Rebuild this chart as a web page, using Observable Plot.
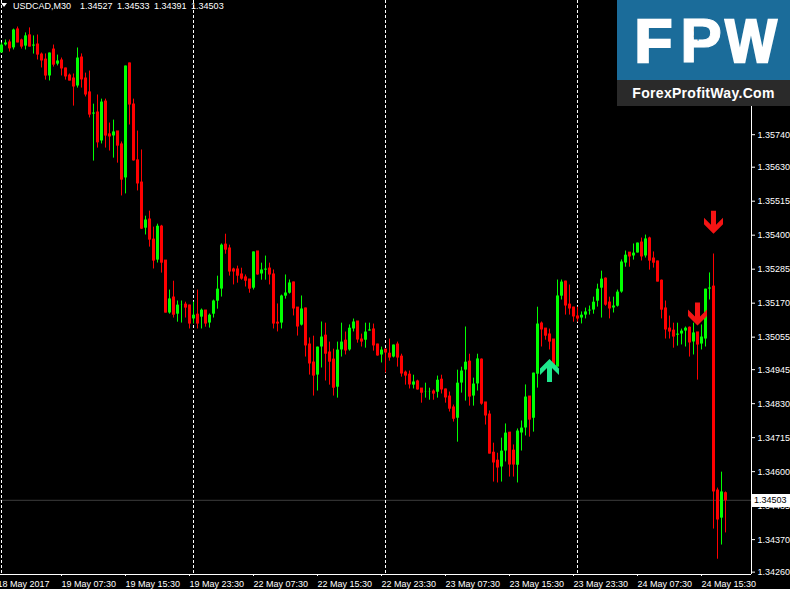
<!DOCTYPE html>
<html><head><meta charset="utf-8">
<script src="https://cdn.jsdelivr.net/npm/d3@7"></script>
<script src="https://cdn.jsdelivr.net/npm/@observablehq/plot@0.6"></script>
<style>
html,body{margin:0;padding:0;background:#000;overflow:hidden;}
#wrap{position:relative;width:790px;height:589px;background:#000;}
#wrap svg{display:block;}
.ov{position:absolute;font-family:"Liberation Sans",Arial,sans-serif;font-size:9px;color:#fff;white-space:pre;}
</style></head><body><div id="wrap"></div>
<script>
// ---- data (USDCAD, M30), bar 0 = 19 May 2017 00:00 ----
const symbolName = "USDCAD,M30";
const opens = [1.36015,1.36042,1.36052,1.36032,1.36096,1.36059,1.36038,1.36076,1.36038,1.36045,1.36011,1.35994,1.35937,1.36028,1.35977,1.35991,1.35964,1.35940,1.35930,1.35903,1.36001,1.35930,1.35883,1.35808,1.35815,1.35717,1.35852,1.35741,1.35734,1.35751,1.35707,1.35592,1.35981,1.35842,1.35653,1.35578,1.35422,1.35453,1.35385,1.35314,1.35429,1.35314,1.35135,1.35189,1.35131,1.35162,1.35165,1.35162,
1.35115,1.35131,1.35121,1.35145,1.35101,1.35131,1.35175,1.35216,1.35368,1.35355,1.35284,1.35284,1.35267,1.35257,1.35250,1.35219,1.35345,1.35267,1.35280,1.35287,1.35267,1.35104,1.35101,1.35192,1.35202,1.35240,1.35155,1.35094,1.35152,1.35030,1.34969,1.34925,1.35020,1.35060,1.35003,1.34979,1.34884,1.35010,1.35043,1.35010,1.35081,1.35108,1.35047,1.35043,1.35074,1.35081,1.35030,1.34993,
1.35013,1.34999,1.34986,1.35030,1.34989,1.34935,1.34928,1.34891,1.34905,1.34881,1.34867,1.34867,1.34871,1.34867,1.34911,1.34878,1.34854,1.34817,1.34779,1.34898,1.34942,1.34972,1.34854,1.34895,1.34979,1.34834,1.34793,1.34664,1.34637,1.34614,1.34668,1.34732,1.34671,1.34620,1.34729,1.34746,1.34854,1.34779,1.34928,1.35101,1.35084,1.35064,1.35047,1.34952,1.35192,1.35243,1.35165,1.35155,
1.35125,1.35118,1.35128,1.35142,1.35145,1.35175,1.35219,1.35253,1.35172,1.35152,1.35158,1.35206,1.35304,1.35341,1.35328,1.35338,1.35375,1.35328,1.35389,1.35321,1.35311,1.35246,1.35152,1.35084,1.35077,1.35060,1.35064,1.35074,1.35087,1.35037,1.35071,1.35030,1.35047,1.35216,1.35226,1.34536,1.34441,1.34527];
const highs = [1.36052,1.36062,1.36062,1.36099,1.36106,1.36065,1.36086,1.36103,1.36076,1.36079,1.36018,1.36015,1.36018,1.36045,1.36011,1.36001,1.35967,1.35947,1.35947,1.36035,1.36015,1.35950,1.35957,1.35845,1.35876,1.35862,1.35862,1.35781,1.35791,1.35751,1.35717,1.35974,1.35984,1.35862,1.35754,1.35690,1.35466,1.35483,1.35429,1.35439,1.35435,1.35314,1.35216,1.35246,1.35179,1.35179,1.35175,1.35165,
1.35175,1.35216,1.35152,1.35145,1.35135,1.35182,1.35263,1.35372,1.35405,1.35368,1.35290,1.35297,1.35290,1.35267,1.35250,1.35345,1.35345,1.35307,1.35331,1.35307,1.35284,1.35169,1.35199,1.35267,1.35250,1.35243,1.35155,1.35196,1.35155,1.35054,1.35060,1.35023,1.35108,1.35104,1.35040,1.35016,1.35040,1.35104,1.35074,1.35098,1.35118,1.35108,1.35067,1.35104,1.35104,1.35101,1.35033,1.35023,
1.35013,1.35050,1.35030,1.35040,1.34999,1.34942,1.34942,1.34928,1.34911,1.34881,1.34901,1.34884,1.34878,1.34925,1.34928,1.34881,1.34871,1.34827,1.34945,1.34955,1.35091,1.34999,1.34918,1.34999,1.34983,1.34834,1.34807,1.34698,1.34664,1.34715,1.34763,1.34732,1.34692,1.34746,1.34773,1.34895,1.34854,1.34935,1.35158,1.35108,1.35084,1.35084,1.35047,1.35250,1.35250,1.35246,1.35233,1.35158,
1.35158,1.35142,1.35155,1.35162,1.35192,1.35236,1.35280,1.35257,1.35192,1.35192,1.35216,1.35318,1.35348,1.35341,1.35372,1.35375,1.35392,1.35402,1.35395,1.35345,1.35314,1.35250,1.35179,1.35128,1.35104,1.35104,1.35084,1.35091,1.35091,1.35104,1.35071,1.35098,1.35219,1.35274,1.35338,1.34546,1.34600,1.34533];
const lows = [1.36015,1.36038,1.36018,1.36025,1.36049,1.36028,1.36025,1.36035,1.36011,1.35991,1.35964,1.35923,1.35920,1.35967,1.35971,1.35937,1.35923,1.35920,1.35835,1.35896,1.35896,1.35866,1.35795,1.35649,1.35693,1.35707,1.35693,1.35683,1.35659,1.35642,1.35531,1.35538,1.35771,1.35649,1.35548,1.35418,1.35399,1.35358,1.35284,1.35304,1.35270,1.35135,1.35131,1.35118,1.35104,1.35101,1.35118,1.35081,
1.35098,1.35081,1.35081,1.35087,1.35084,1.35118,1.35148,1.35189,1.35334,1.35260,1.35230,1.35236,1.35246,1.35223,1.35202,1.35213,1.35263,1.35246,1.35246,1.35230,1.35081,1.35071,1.35081,1.35182,1.35199,1.35125,1.35057,1.35091,1.34986,1.34925,1.34854,1.34871,1.34949,1.34905,1.34891,1.34854,1.34847,1.34986,1.34993,1.35006,1.35071,1.35033,1.35020,1.35016,1.35074,1.35006,1.34989,1.34966,
1.34932,1.34972,1.34983,1.34952,1.34918,1.34891,1.34878,1.34878,1.34874,1.34830,1.34847,1.34840,1.34840,1.34847,1.34861,1.34830,1.34800,1.34766,1.34698,1.34864,1.34837,1.34820,1.34820,1.34871,1.34823,1.34756,1.34658,1.34563,1.34560,1.34563,1.34631,1.34580,1.34580,1.34560,1.34668,1.34719,1.34715,1.34732,1.34881,1.35020,1.35043,1.35010,1.34952,1.34952,1.35179,1.35128,1.35128,1.35104,
1.35104,1.35098,1.35115,1.35128,1.35131,1.35155,1.35118,1.35158,1.35115,1.35135,1.35155,1.35202,1.35290,1.35290,1.35314,1.35338,1.35311,1.35321,1.35280,1.35287,1.35240,1.35115,1.35047,1.35047,1.35016,1.35023,1.35027,1.35020,1.34986,1.34993,1.34908,1.35010,1.35020,1.35179,1.34404,1.34302,1.34350,1.34391];
const closes = [1.36045,1.36052,1.36032,1.36096,1.36052,1.36038,1.36076,1.36038,1.36045,1.36011,1.35991,1.35940,1.36018,1.35977,1.35991,1.35964,1.35937,1.35923,1.35903,1.36001,1.35927,1.35876,1.35808,1.35815,1.35714,1.35852,1.35737,1.35734,1.35751,1.35703,1.35588,1.35974,1.35842,1.35653,1.35575,1.35422,1.35453,1.35385,1.35314,1.35432,1.35307,1.35138,1.35186,1.35131,1.35165,1.35165,1.35155,1.35101,
1.35131,1.35101,1.35148,1.35101,1.35131,1.35179,1.35219,1.35368,1.35351,1.35277,1.35277,1.35263,1.35253,1.35246,1.35219,1.35345,1.35267,1.35284,1.35287,1.35267,1.35101,1.35101,1.35196,1.35206,1.35240,1.35152,1.35091,1.35152,1.35027,1.34966,1.34925,1.35023,1.35057,1.34999,1.34972,1.34884,1.35013,1.35040,1.35010,1.35087,1.35108,1.35047,1.35040,1.35074,1.35081,1.35027,1.34993,1.35013,
1.35003,1.34986,1.35030,1.34986,1.34932,1.34925,1.34895,1.34905,1.34878,1.34867,1.34871,1.34871,1.34864,1.34911,1.34878,1.34851,1.34813,1.34779,1.34901,1.34942,1.34972,1.34854,1.34898,1.34983,1.34830,1.34790,1.34661,1.34631,1.34614,1.34671,1.34732,1.34624,1.34624,1.34739,1.34749,1.34854,1.34776,1.34935,1.35101,1.35081,1.35060,1.35040,1.34959,1.35196,1.35243,1.35162,1.35152,1.35125,
1.35118,1.35131,1.35142,1.35148,1.35175,1.35219,1.35253,1.35165,1.35152,1.35162,1.35209,1.35311,1.35334,1.35328,1.35341,1.35375,1.35328,1.35389,1.35314,1.35307,1.35243,1.35148,1.35081,1.35074,1.35057,1.35067,1.35077,1.35087,1.35037,1.35071,1.35030,1.35057,1.35219,1.35223,1.34533,1.34438,1.34533,1.34503];

// day separators (bar index of 00:00) and time-axis labels
const separatorBars = [0, 48, 96, 144];
const timeTickBars = [-1, 15, 31, 47, 63, 79, 95, 111, 127, 143, 159, 175];
const timeTickLabels = ["18 May 2017","19 May 07:30","19 May 15:30","19 May 23:30","22 May 07:30","22 May 15:30","22 May 23:30","23 May 07:30","23 May 15:30","23 May 23:30","24 May 07:30","24 May 15:30"];
// visible price-scale ticks (higher ones are hidden under the logo)
const priceTicks = [1.34260,1.34370,1.34485,1.34600,1.34715,1.34830,1.34945,1.35055,1.35170,1.35285,1.35400,1.35515,1.35630,1.35740];

// signal arrows
const arrowBars = [137, 174, 178];
const arrowPrices = [1.34942, 1.35133, 1.35444];
const arrowDirs = ["up", "down", "down"];

const bars = opens.map((o, i) => ({i, o, h: highs[i], l: lows[i], c: closes[i]}));
const arrows = arrowBars.map((b, k) => ({b, p: arrowPrices[k], dir: arrowDirs[k]}));

const BULL = "#00ff00", BEAR = "#ff0000";
const candleColor = d => d.c >= d.o ? BULL : BEAR;

function arrowSymbol(sign) {
  const pts = [[-2.5,-11.5],[2.5,-11.5],[2.5,2.5],[9.5,-4.5],[9.5,2],[0,11.5],[-9.5,2],[-9.5,-4.5],[-2.5,2.5]];
  return {draw(ctx) {
    pts.forEach(([x, y], k) => k ? ctx.lineTo(x, sign * y) : ctx.moveTo(x, sign * y));
    ctx.closePath();
  }};
}
const downArrow = arrowSymbol(1), upArrow = arrowSymbol(-1);

const xDomain = [-0.25, 187.5];
const yDomain = [1.34252, 1.36194];

const chart = Plot.plot({
  width: 790, height: 589,
  marginLeft: 0, marginRight: 39, marginTop: 0, marginBottom: 15,
  style: {background: "#000", color: "#fff", fontFamily: "'Liberation Sans', Arial, sans-serif", fontSize: "9px"},
  x: {type: "linear", domain: xDomain},
  y: {type: "linear", domain: yDomain},
  marks: [
    Plot.ruleY([closes[closes.length - 1]], {stroke: "#3c3c3c"}),
    Plot.ruleX(separatorBars, {stroke: "#fff", strokeDasharray: "3,2"}),
    Plot.ruleX(bars, {x: "i", y1: "l", y2: "h", stroke: candleColor, strokeWidth: 1, insetTop: -0.5, insetBottom: -0.5}),
    Plot.ruleX(bars, {x: "i", y1: "o", y2: "c", stroke: candleColor, strokeWidth: 3, insetTop: -0.5, insetBottom: -0.5}),
    Plot.dot(arrows.filter(d => d.dir === "up"), {x: "b", y: "p", symbol: upArrow, fill: "#1ee88c", stroke: "none", r: 10}),
    Plot.dot(arrows.filter(d => d.dir === "down"), {x: "b", y: "p", symbol: downArrow, fill: "#f41414", stroke: "none", r: 10}),
    Plot.ruleX([xDomain[1]], {stroke: "#fff"}),
    Plot.ruleY([yDomain[0]], {stroke: "#fff", x1: xDomain[0] - 1, x2: xDomain[1]}),
    Plot.axisY({anchor: "right", ticks: priceTicks, tickSize: 3, tickPadding: 3, tickFormat: d3.format(".5f"), label: null}),
    Plot.axisX({anchor: "bottom", ticks: timeTickBars, tickSize: 2, tickPadding: 4, textAnchor: "start",
      tickFormat: d => timeTickLabels[timeTickBars.indexOf(d)], label: null})
  ]
});
const wrap = document.getElementById("wrap");
wrap.appendChild(chart);

// header line
const yS = chart.scale("y");
const last = bars[bars.length - 1];
const tri = document.createElement("div");
tri.style.cssText = "position:absolute;left:1px;top:3px;width:0;height:0;border-left:3px solid transparent;border-right:3px solid transparent;border-top:4px solid #fff;";
wrap.appendChild(tri);
const h1 = document.createElement("div");
h1.className = "ov"; h1.style.left = "13px"; h1.style.top = "1px";
h1.textContent = symbolName;
wrap.appendChild(h1);
const h2 = document.createElement("div");
h2.className = "ov"; h2.style.left = "80px"; h2.style.top = "1px"; h2.style.wordSpacing = "2px";
h2.textContent = [last.o, last.h, last.l, last.c].map(d3.format(".5f")).join(" ");
wrap.appendChild(h2);

// current price box
const pb = document.createElement("div");
pb.className = "ov";
const py = yS.apply(last.c);
pb.style.cssText += `left:752px;top:${Math.round(py) - 6}px;width:38px;height:13px;background:#fff;color:#000;line-height:13px;padding-left:2px;box-sizing:border-box;`;
pb.textContent = d3.format(".5f")(last.c);
wrap.appendChild(pb);

// logo
const logo = document.createElement("div");
logo.style.cssText = "position:absolute;left:617px;top:0;width:173px;height:106px;";
logo.innerHTML = `<svg width="173" height="106" xmlns="http://www.w3.org/2000/svg">
<rect x="0" y="0" width="173" height="80" fill="#1b6c9a"/>
<rect x="0" y="80" width="173" height="26" fill="#2a2a2a"/>
<g font-family="'Liberation Sans', Arial, sans-serif" font-weight="bold" fill="#fff" text-anchor="middle">
<text x="36.5" y="62" font-size="62" stroke="#fff" stroke-width="2.5">F</text>
<text x="84" y="62" font-size="63" stroke="#fff" stroke-width="1">P</text>
<text x="134" y="62" font-size="62" stroke="#fff" stroke-width="2.5" transform="translate(134 0) scale(0.88 1) translate(-134 0)">W</text>
<text x="81" y="39" font-size="16" fill="#1b6c9a">$</text>
<text x="86.5" y="98" font-size="14" letter-spacing="0.3">ForexProfitWay.Com</text>
</g></svg>`;
wrap.appendChild(logo);
</script>
</body></html>
